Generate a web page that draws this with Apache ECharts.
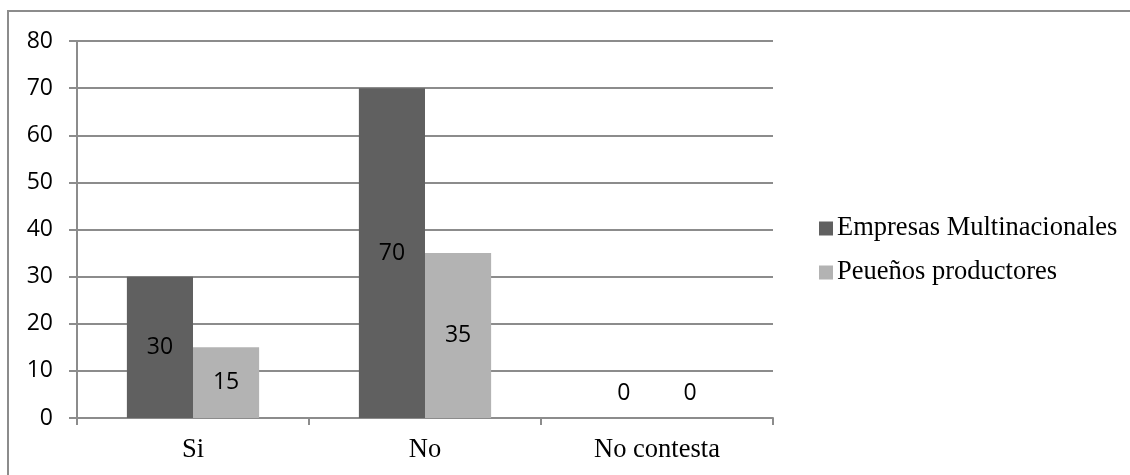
<!DOCTYPE html>
<html>
<head>
<meta charset="utf-8">
<script src="https://cdn.jsdelivr.net/npm/echarts@6/dist/echarts.min.js"></script>
<style>
  html, body { margin: 0; padding: 0; background: #fff; }
  #chart { width: 1130px; height: 475px; }
</style>
</head>
<body>
<div id="chart"></div>
<script>
// Categories along the x axis
const categories = ['Si', 'No', 'No contesta'];
// Series names and values
const seriesNames = ['Empresas Multinacionales', 'Peueños productores'];
const multinacionales = [30, 70, 0];
const pequenos = [15, 35, 0];
// Value axis range
const yMin = 0, yMax = 80, yStep = 10;

const serif = 'Liberation Serif, Times New Roman, serif';
const sans = 'Open Sans, sans-serif';
const lineGray = '#8c8c8c';

// Zero-height bars carry their label just above the baseline
function withLabels(values) {
  return values.map(v => v === 0
    ? { value: v, label: { position: 'top', distance: 13 } }
    : v);
}

const chart = echarts.init(document.getElementById('chart'), null, { renderer: 'canvas' });
chart.setOption({
  animation: false,
  backgroundColor: '#fff',
  graphic: [{
    type: 'rect',
    shape: { x: 8, y: 11, width: 1300, height: 700 },
    style: { fill: 'none', stroke: lineGray, lineWidth: 2 },
    silent: true
  }],
  grid: { left: 77, right: 357, top: 41, bottom: 57 },
  legend: {
    orient: 'vertical',
    left: 814,
    top: 210,
    itemWidth: 14,
    itemHeight: 14,
    itemGap: 17,
    icon: 'rect',
    textStyle: { fontFamily: serif, fontSize: 26.5, color: '#000', padding: [0, 0, 0, -1] },
    data: seriesNames
  },
  xAxis: {
    type: 'category',
    data: categories,
    axisLine: { lineStyle: { color: lineGray, width: 2 } },
    axisTick: { show: true, length: 7, interval: 0, lineStyle: { color: lineGray, width: 2 } },
    axisLabel: { fontFamily: serif, fontSize: 26.5, color: '#000', margin: 19 },
    splitLine: { show: false }
  },
  yAxis: {
    type: 'value',
    min: yMin,
    max: yMax,
    interval: yStep,
    axisLine: { show: true, lineStyle: { color: lineGray, width: 2 } },
    axisTick: { show: true, length: 8, lineStyle: { color: lineGray, width: 2 } },
    axisLabel: { fontFamily: sans, fontSize: 23, color: '#000', margin: 24 },
    splitLine: { show: true, lineStyle: { color: lineGray, width: 2 } }
  },
  series: [
    {
      name: seriesNames[0],
      type: 'bar',
      data: withLabels(multinacionales),
      barGap: '0%',
      barCategoryGap: '43%',
      itemStyle: { color: '#606060' },
      label: { show: true, position: 'inside', fontFamily: sans, fontSize: 23, color: '#000' }
    },
    {
      name: seriesNames[1],
      type: 'bar',
      data: withLabels(pequenos),
      barGap: '0%',
      barCategoryGap: '43%',
      itemStyle: { color: '#b3b3b3' },
      label: { show: true, position: 'inside', fontFamily: sans, fontSize: 23, color: '#000' }
    }
  ]
});
</script>
</body>
</html>
